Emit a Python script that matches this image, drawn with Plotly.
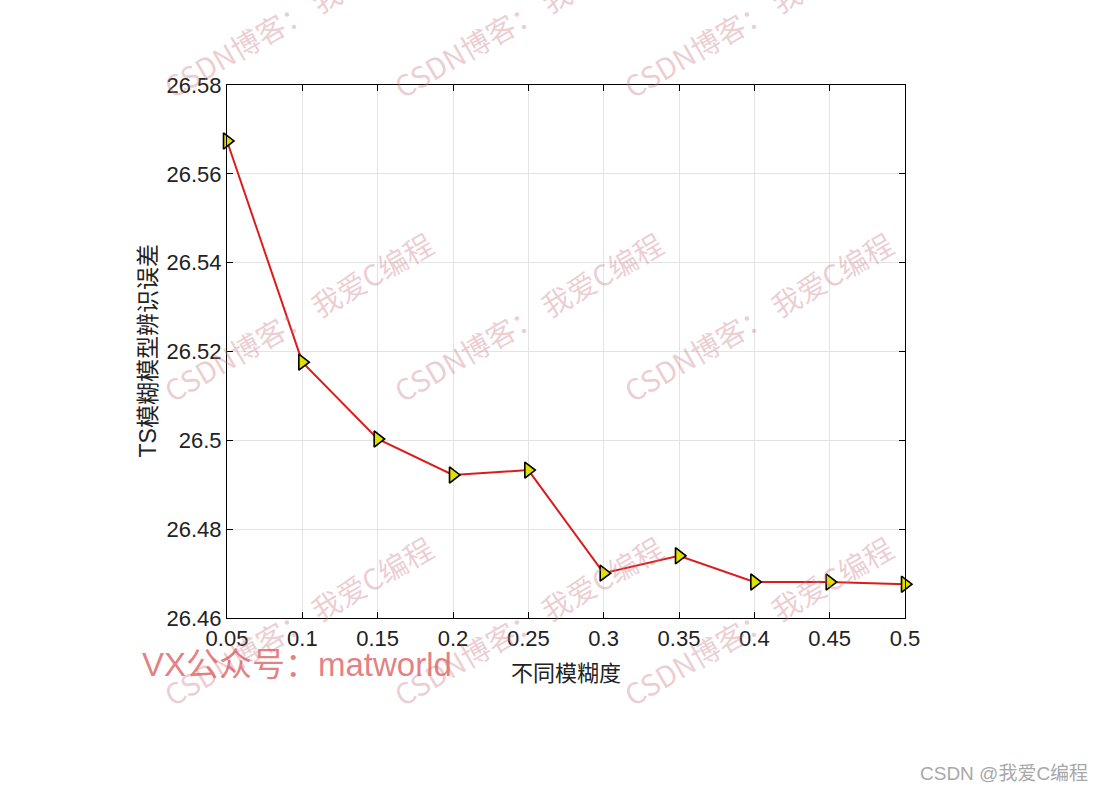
import plotly.graph_objects as go

# Data
fuzziness = [0.05, 0.1, 0.15, 0.2, 0.25, 0.3, 0.35, 0.4, 0.45, 0.5]
ts_error = [26.5674, 26.5176, 26.5003, 26.4922, 26.4933, 26.4701, 26.4740, 26.4681, 26.4681, 26.4676]
x_ticks = [0.05, 0.1, 0.15, 0.2, 0.25, 0.3, 0.35, 0.4, 0.45, 0.5]
x_tick_labels = ["0.05", "0.1", "0.15", "0.2", "0.25", "0.3", "0.35", "0.4", "0.45", "0.5"]
y_ticks = [26.46, 26.48, 26.5, 26.52, 26.54, 26.56, 26.58]
y_tick_labels = ["26.46", "26.48", "26.5", "26.52", "26.54", "26.56", "26.58"]
x_title = "不同模糊度"
y_title = "TS模糊模型辨识误差"
watermark = "CSDN博客： 我爱C编程"
wm_cols_px = [298, 528, 758]
wm_rows_px = [12, 316, 620]

W, H = 1102, 793
L, R, T, B = 227, 905, 85, 618
pw, ph = R - L, B - T


def px(x):
    return (x - L) / pw


def py(y):
    return (B - y) / ph


fig = go.Figure()
fig.add_trace(go.Scatter(
    x=fuzziness, y=ts_error, mode="lines+markers",
    line=dict(color="#dc1c1c", width=2),
    marker=dict(symbol="triangle-right", size=14, color="#e0e000",
                line=dict(color="black", width=1.6)),
    cliponaxis=False, showlegend=False,
))

axis_common = dict(
    showline=True, linecolor="black", linewidth=1.2, mirror="ticks",
    ticks="inside", ticklen=6, tickcolor="black", tickwidth=1,
    showgrid=True, gridcolor="#e3e3e3", gridwidth=1, zeroline=False,
    tickfont=dict(family="Arial, Liberation Sans", size=22, color="#222"),
)

fig.update_xaxes(range=[0.05, 0.5], tickvals=x_ticks, ticktext=x_tick_labels, **axis_common)
fig.update_yaxes(range=[26.46, 26.58], tickvals=y_ticks, ticktext=y_tick_labels, **axis_common)

annotations = [
    dict(text=x_title, x=0.5, y=py(671), xref="paper", yref="paper", showarrow=False,
         xanchor="center", yanchor="middle",
         font=dict(family="Noto Sans CJK SC", size=22, color="#222")),
    dict(text=y_title, x=px(147), y=0.5, xref="paper", yref="paper", showarrow=False, textangle=-90,
         xanchor="center", yanchor="middle",
         font=dict(family="Liberation Sans, Noto Sans CJK SC", size=23, color="#222")),
]

for cy in wm_rows_px:
    for cx in wm_cols_px:
        annotations.append(dict(
            text=watermark, x=px(cx), y=py(cy), xref="paper", yref="paper",
            showarrow=False, textangle=-30, xanchor="center", yanchor="middle",
            font=dict(family="Noto Sans CJK SC", size=29, color="rgba(205,125,135,0.38)"),
        ))

annotations.append(dict(
    text="VX公众号：matworld", x=px(140), y=py(664), xref="paper", yref="paper",
    xanchor="left", yanchor="middle", showarrow=False,
    font=dict(family="Liberation Sans, Noto Sans CJK SC", size=33, color="rgba(220,95,100,0.8)"),
))
annotations.append(dict(
    text="CSDN @我爱C编程", x=px(1090), y=py(773), xref="paper", yref="paper",
    xanchor="right", yanchor="middle", showarrow=False,
    font=dict(family="Liberation Sans, Noto Sans CJK SC", size=19, color="#a8a8a8"),
))

fig.update_layout(
    width=W, height=H, autosize=False,
    margin=dict(l=L, r=W - R, t=T, b=H - B),
    paper_bgcolor="white", plot_bgcolor="white",
    annotations=annotations,
)

fig.write_html("out.html", config={"displayModeBar": False},
               post_script="document.body.style.margin='0px';document.body.style.padding='0px';")
